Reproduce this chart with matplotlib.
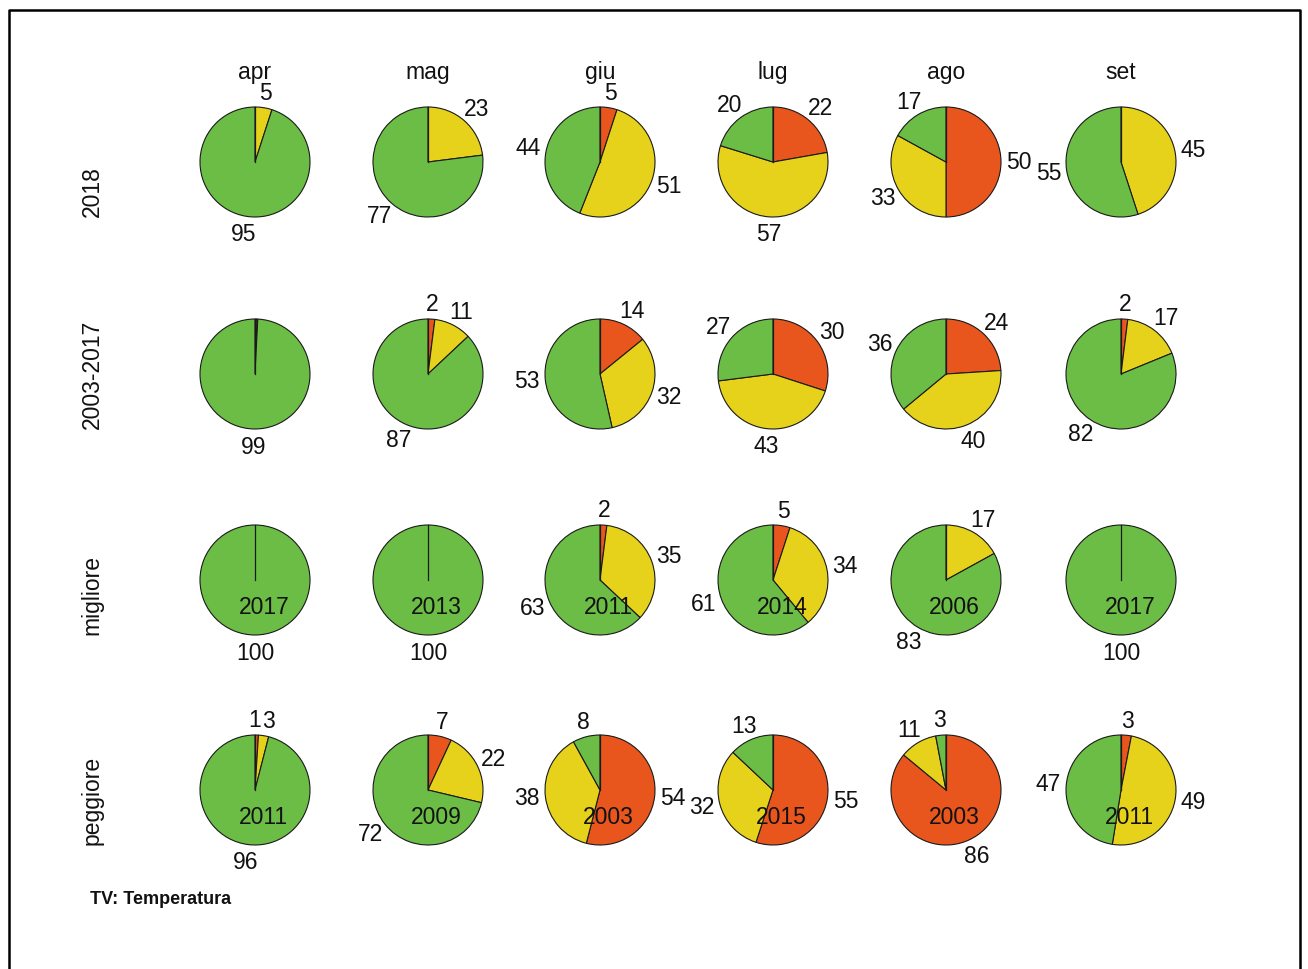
import numpy as np
import matplotlib
matplotlib.use("Agg")
import matplotlib.pyplot as plt
from matplotlib.lines import Line2D

plt.rcParams['font.family'] = ['Liberation Sans', 'DejaVu Sans']

months = ["apr", "mag", "giu", "lug", "ago", "set"]
rows = ["2018", "2003-2017", "migliore", "peggiore"]

# shares per month: red, yellow, green
red_2018 = [0, 0, 5, 22, 50, 0]
yel_2018 = [5, 23, 51, 57, 33, 45]
grn_2018 = [95, 77, 44, 20, 17, 55]

red_clim = [0.4, 2, 14, 30, 24, 2]
yel_clim = [0.4, 11, 32, 43, 40, 17]
grn_clim = [99.2, 87, 53, 27, 36, 82]

red_best = [0, 0, 2, 5, 0, 0]
yel_best = [0, 0, 35, 34, 17, 0]
grn_best = [100, 100, 63, 61, 83, 100]
year_best = ["2017", "2013", "2011", "2014", "2006", "2017"]

red_worst = [1, 7, 54, 55, 86, 3]
yel_worst = [3, 22, 38, 32, 11, 49]
grn_worst = [96, 72, 8, 13, 3, 47]
year_worst = ["2011", "2009", "2003", "2015", "2003", "2011"]

colors = ["#E8561E", "#E6D21A", "#6CBD45"]
edge = "#1a1a1a"

W, H = 1308, 969
fig = plt.figure(figsize=(W / 100, H / 100), dpi=100)
ax = fig.add_axes([0, 0, 1, 1])
ax.set_xlim(0, W)
ax.set_ylim(0, H)
ax.set_aspect("equal")
ax.axis("off")

col_x = [255, 428, 600, 773, 946, 1121]
row_y = [162, 374, 580, 790]
R = 55
FS = 16.5

data = [
    (red_2018, yel_2018, grn_2018, None),
    (red_clim, yel_clim, grn_clim, None),
    (red_best, yel_best, grn_best, year_best),
    (red_worst, yel_worst, grn_worst, year_worst),
]

pie_labels = []  # list of lists of (text, anchor_x, frac)
for ri, (rd, yl, gr, yrs) in enumerate(data):
    cy = H - row_y[ri]
    for ci in range(6):
        cx = col_x[ci]
        vals = [rd[ci], yl[ci], gr[ci]]
        ax.pie(vals, center=(cx, cy), radius=R, startangle=90,
               counterclock=False, colors=colors, frame=True,
               wedgeprops=dict(edgecolor=edge, linewidth=0.8))
        ax.plot([cx, cx], [cy, cy + R], color=edge, lw=0.9, zorder=5)
        tot = float(sum(vals))
        cum = 0.0
        group = []
        for v in vals:
            mid = (cum + v / 2) / tot * 2 * np.pi
            cum += v
            lab = int(round(v))
            if lab <= 0:
                continue
            sx, cyy = np.sin(mid), np.cos(mid)
            ax_x = cx + 1.1 * R * sx
            fac = 1.295 - 0.035 * cyy
            ty = cy + fac * R * cyy
            t = ax.text(ax_x, ty, str(lab), ha="left", va="center",
                        fontsize=FS, color="#111111")
            group.append((t, ax_x, (1 - sx) / 2))
        pie_labels.append(group)
        if yrs is not None:
            ax.text(cx + 0.16 * R, cy - 0.5 * R, yrs[ci], ha="center",
                    va="center", fontsize=FS, color="#111111")

for ci, m in enumerate(months):
    ax.text(col_x[ci], H - 72, m, ha="center", va="center", fontsize=FS,
            color="#111111")

row_label_y = [192, 374, 595, 800]
for ri, r in enumerate(rows):
    ax.text(92, H - row_label_y[ri], r, rotation=90, ha="center",
            va="center", fontsize=FS, color="#111111")

ax.text(90, H - 900, "TV: Temperatura", ha="left", va="center",
        fontsize=13, fontweight="bold", color="#111111")

# outer frame (left, top, right)
fig.add_artist(Line2D([9 / W, 9 / W, 1300 / W, 1300 / W],
                      [0, 1 - 10 / H, 1 - 10 / H, 0],
                      transform=fig.transFigure, color="black", linewidth=1.8))

# smooth horizontal alignment of slice labels
fig.canvas.draw()
renderer = fig.canvas.get_renderer()
for group in pie_labels:
    boxes = []
    for t, axx, frac in group:
        bb = t.get_window_extent(renderer)
        w = bb.width
        x0 = axx - frac * w
        t.set_x(x0)
        boxes.append([x0, x0 + w, t.get_position()[1], bb.height])
    # resolve overlaps between neighbouring labels
    for i in range(len(group) - 1):
        a, b = boxes[i], boxes[i + 1]
        if abs(a[2] - b[2]) < 0.8 * a[3] and a[1] > b[0] and a[0] < b[1]:
            ov = a[1] - b[0] + 1
            a[0] -= ov / 2; a[1] -= ov / 2
            b[0] += ov / 2; b[1] += ov / 2
            group[i][0].set_x(a[0])
            group[i + 1][0].set_x(b[0])

fig.savefig("out.png", dpi=100)
